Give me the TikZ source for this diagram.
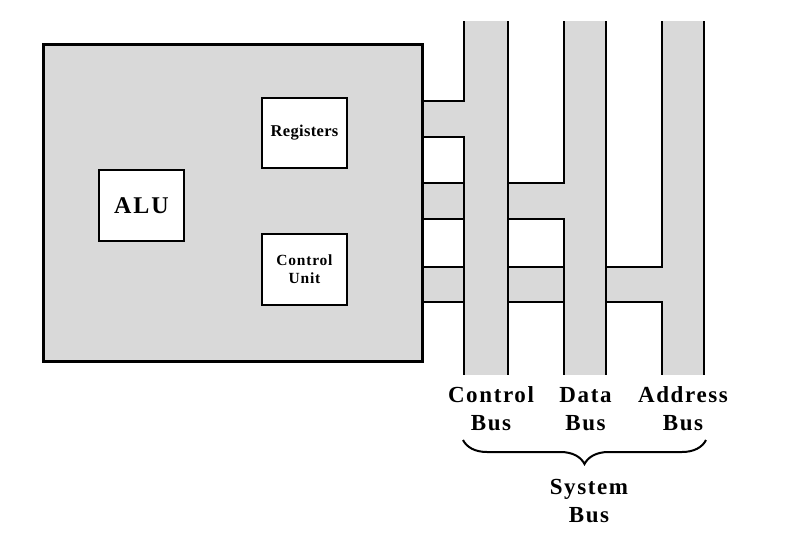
\documentclass[tikz,border=0pt]{standalone}
\usepackage{fontspec}
\setmainfont{Liberation Serif}
\usetikzlibrary{decorations.pathreplacing}
\definecolor{busgray}{HTML}{D9D9D9}
\begin{document}
\begin{tikzpicture}[x=1pt,y=-1pt,
  unitbox/.style={draw=black,line width=2pt,fill=white,inner sep=0pt,align=center},
  bline/.style={line width=2.6pt,line cap=butt},
  lbl/.style={inner sep=0pt,font=\fontsize{23}{28}\selectfont\bfseries\addfontfeature{LetterSpace=7},align=center}]
\useasboundingbox (0,0) rectangle (794,544);
% CPU
\node[draw=black,line width=3pt,fill=busgray,minimum width=379pt,minimum height=317pt,inner sep=0pt] (cpu) at (232.5,202.5) {};
\node[unitbox,minimum width=85pt,minimum height=71pt,font=\fontsize{24}{26}\selectfont\bfseries\addfontfeature{LetterSpace=8}] (alu) at (141.5,205.5) {ALU};
\node[unitbox,minimum width=85pt,minimum height=70pt,font=\fontsize{16.5}{18}\selectfont\bfseries\addfontfeature{LetterSpace=2}] (reg) at (304.5,133) {Registers};
\node[unitbox,minimum width=85pt,minimum height=71pt,font=\fontsize{15.5}{18}\selectfont\bfseries\addfontfeature{LetterSpace=5}] (cu) at (304.5,269.5) {Control\\Unit};
% gray fills: stubs
\fill[busgray] (cpu.east |- 0,101) rectangle (464,137);
\fill[busgray] (cpu.east |- 0,183) rectangle (564,219);
\fill[busgray] (cpu.east |- 0,267) rectangle (662,302);
% gray fills: buses
\fill[busgray] (464,21) rectangle (508,375);
\fill[busgray] (564,21) rectangle (606,375);
\fill[busgray] (662,21) rectangle (704,375);
% bus lines
\draw[bline] (464,21) -- (464,101) (464,137) -- (464,375);
\draw[bline] (508,21) -- (508,375);
\draw[bline] (564,21) -- (564,183) (564,219) -- (564,375);
\draw[bline] (606,21) -- (606,375);
\draw[bline] (662,21) -- (662,267) (662,302) -- (662,375);
\draw[bline] (704,21) -- (704,375);
% stub lines
\draw[bline] (cpu.east |- 0,101) -- (465.3,101) (cpu.east |- 0,137) -- (465.3,137);
\draw[bline] (cpu.east |- 0,183) -- (464,183) (508,183) -- (565.3,183)
             (cpu.east |- 0,219) -- (464,219) (508,219) -- (565.3,219);
\draw[bline] (cpu.east |- 0,267) -- (464,267) (508,267) -- (564,267) (606,267) -- (663.3,267)
             (cpu.east |- 0,302) -- (464,302) (508,302) -- (564,302) (606,302) -- (663.3,302);
% labels
\node[lbl] (lc) at (491,409) {Control\\Bus};
\node[lbl] (ld) at (585.5,409) {Data\\Bus};
\node[lbl] (la) at (683,409) {Address\\Bus};
\coordinate (bl) at (463,440);
\coordinate (br) at (706,440);
\draw[line width=2pt,decorate,decoration={brace,mirror,amplitude=24pt}] (bl) -- (br);
\node[lbl] (sb) at (589,501.5) {System\\Bus};
\end{tikzpicture}
\end{document}
